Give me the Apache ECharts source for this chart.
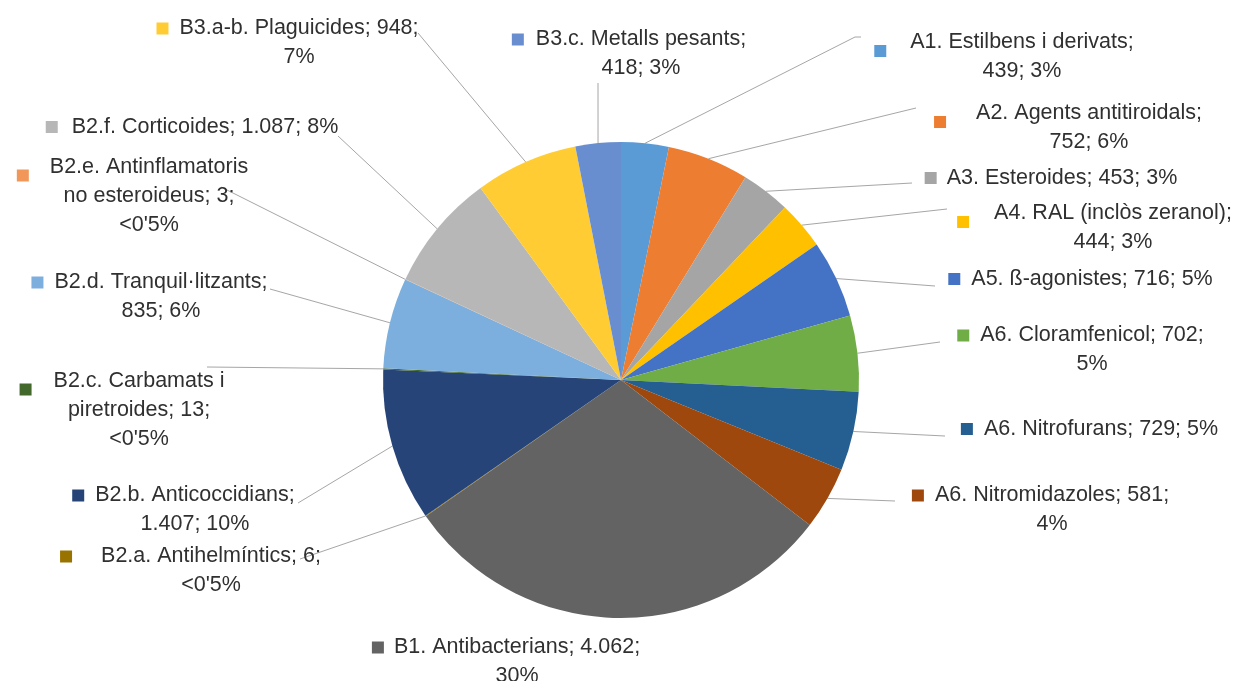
<!DOCTYPE html>
<html>
<head>
<meta charset="utf-8">
<script src="https://cdn.jsdelivr.net/npm/echarts@6/dist/echarts.min.js"></script>
<style>
  html, body { margin: 0; padding: 0; background: #fff; }
  #chart { width: 1234px; height: 681px; }
</style>
</head>
<body>
<div id="chart"></div>
<script>
const names = [
  "A1. Estilbens i derivats",
  "A2. Agents antitiroidals",
  "A3. Esteroides",
  "A4. RAL (inclòs zeranol)",
  "A5. ß-agonistes",
  "A6. Cloramfenicol",
  "A6. Nitrofurans",
  "A6. Nitromidazoles",
  "B1. Antibacterians",
  "B2.a. Antihelmíntics",
  "B2.b. Anticoccidians",
  "B2.c. Carbamats i piretroides",
  "B2.d. Tranquil·litzants",
  "B2.e. Antinflamatoris no esteroideus",
  "B2.f. Corticoides",
  "B3.a-b. Plaguicides",
  "B3.c. Metalls pesants"
];
const values = [439, 752, 453, 444, 716, 702, 729, 581, 4062, 6, 1407, 13, 835, 3, 1087, 948, 418];
const colors = [
  "#5B9BD5", "#ED7D31", "#A5A5A5", "#FFC000", "#4472C4", "#70AD47", "#255E91", "#9E480E",
  "#636363", "#997300", "#264478", "#43682B", "#7CAFDD", "#F1975A", "#B7B7B7", "#FFCD33", "#698ED0"
];

// label placement (centre of first text line, block middle), gap after key, wrap mode
// wrap: 0 one line, 1 break after name, 2 break after value; nameBreak = words on first line
const labelPos = [
  { x: 1022, y: 57, gap: 24, key: "bottom", wrap: 1, end: [[855, 37], [861, 37]] },
  { x: 1089, y: 128, gap: 30, key: "bottom", wrap: 1, end: [[916, 108]] },
  { x: 1062, y: 178, gap: 10, key: "middle", wrap: 0, end: [[912, 183]] },
  { x: 1113, y: 228, gap: 25, key: "bottom", wrap: 1, end: [[947, 209]] },
  { x: 1092, y: 279, gap: 11, key: "middle", wrap: 0, end: [[935, 286]] },
  { x: 1092, y: 350, gap: 11, key: "middle", wrap: 2, end: [[940, 342]] },
  { x: 1101, y: 429, gap: 11, key: "middle", wrap: 0, end: [[945, 436]] },
  { x: 1052, y: 510, gap: 11, key: "middle", wrap: 2, end: [[895, 501]] },
  { x: 517, y: 662, gap: 10, key: "middle", wrap: 2, end: null },
  { x: 211, y: 571, gap: 29, key: "middle", wrap: 2, end: [[300, 559]] },
  { x: 195, y: 510, gap: 11, key: "middle", wrap: 1, end: [[298, 503]] },
  { x: 139, y: 410, gap: 22, key: "bottom", wrap: 2, nameBreak: 3, end: [[207, 367]] },
  { x: 161, y: 297, gap: 11, key: "middle", wrap: 1, end: [[270, 289]] },
  { x: 149, y: 196, gap: 21, key: "bottom", wrap: 2, nameBreak: 2, end: [[221, 187]] },
  { x: 205, y: 127, gap: 14, key: "middle", wrap: 0, end: [[338, 136]] },
  { x: 299, y: 43, gap: 11, key: "middle", wrap: 2, end: [[418, 33]] },
  { x: 641, y: 54, gap: 12, key: "middle", wrap: 1, end: [[598, 83]] }
];

const KEY = 12;
const total = values.reduce((a, b) => a + b, 0);

const fmtNum = (v) => String(v).replace(/\B(?=(\d{3})+(?!\d))/g, ".");
const fmtPct = (v) => {
  const p = (v / total) * 100;
  return p < 0.5 ? "<0'5%" : Math.round(p) + "%";
};

function labelText(i) {
  const p = labelPos[i];
  let name = names[i];
  if (p.nameBreak) {
    const words = name.split(" ");
    name = words.slice(0, p.nameBreak).join(" ") + "\n" + words.slice(p.nameBreak).join(" ");
  }
  const v = fmtNum(values[i]);
  const pct = fmtPct(values[i]);
  let text;
  if (p.wrap === 0) text = `${name}; ${v}; ${pct}`;
  else if (p.wrap === 1) text = `${name};\n${v}; ${pct}`;
  else text = `${name}; ${v};\n${pct}`;
  return text
    .split("\n")
    .map((line, k) => (k === 0 ? "{m|}{g|}" : "{s|}") + line)
    .join("\n");
}

const chart = echarts.init(document.getElementById("chart"));

chart.setOption({
  backgroundColor: "#ffffff",
  animation: false,
  series: [
    {
      type: "pie",
      center: [621, 380],
      radius: 238,
      startAngle: 90,
      clockwise: true,
      avoidLabelOverlap: false,
      silent: true,
      itemStyle: { borderWidth: 0 },
      label: {
        show: true,
        position: "outside",
        color: "#303030",
        fontFamily: "'Liberation Sans', Arial, sans-serif",
        fontSize: 21.5,
        lineHeight: 29,
        formatter: (params) => labelText(params.dataIndex)
      },
      labelLine: {
        show: true,
        length: 20,
        length2: 10,
        lineStyle: { color: "#A6A6A6", width: 1 }
      },
      labelLayout: (params) => {
        const p = labelPos[params.dataIndex];
        const out = {
          x: p.x - (KEY + p.gap) / 2,
          y: p.y,
          align: "center",
          verticalAlign: "middle"
        };
        if (p.end && params.labelLinePoints) {
          out.labelLinePoints = [params.labelLinePoints[0]].concat(p.end);
        }
        return out;
      },
      data: values.map((v, i) => ({
        name: names[i],
        value: v,
        itemStyle: { color: colors[i] },
        labelLine: { show: labelPos[i].end !== null },
        label: {
          rich: {
            m: {
              width: KEY,
              height: KEY,
              backgroundColor: colors[i],
              verticalAlign: labelPos[i].key
            },
            g: { width: labelPos[i].gap },
            s: { width: KEY + labelPos[i].gap }
          }
        }
      }))
    }
  ]
});
</script>
</body>
</html>
